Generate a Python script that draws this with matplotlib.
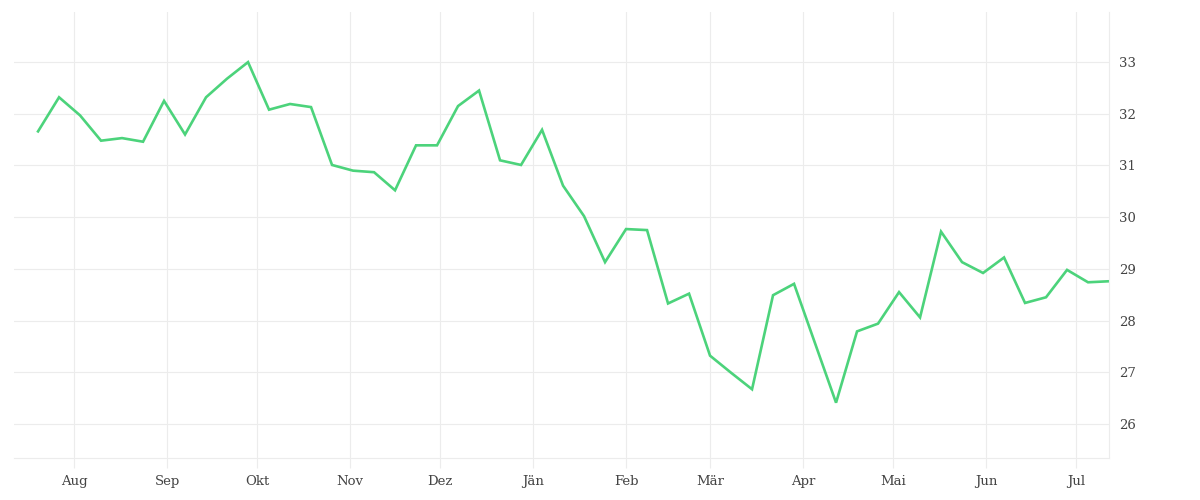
import matplotlib
matplotlib.use('Agg')
import matplotlib.pyplot as plt
import matplotlib.dates as mdates
from datetime import date, timedelta

# weekly values (one week has no point, the line runs straight)
start = date(2022, 7, 20)
weeks = [0, 1, 2, 3, 4, 5, 6, 7, 8, 9, 10, 11, 12, 13, 14, 15, 16, 17, 18, 19,
         20, 21, 22, 23, 24, 25, 26, 27, 28, 29, 30, 31, 32, 33, 34, 35, 36,
         38, 39, 40, 41, 42, 43, 44, 45, 46, 47, 48, 49, 50, 51]
values = [31.66, 32.32, 31.97, 31.48, 31.53, 31.46, 32.25, 31.60, 32.32, 32.68,
          33.00, 32.08, 32.19, 32.13, 31.01, 30.90, 30.87, 30.52, 31.39, 31.39,
          32.15, 32.45, 31.10, 31.01, 31.69, 30.61, 30.02, 29.13, 29.77, 29.75,
          28.33, 28.52, 27.32, 26.99, 26.67, 28.49, 28.71,
          26.41, 27.79, 27.94, 28.55, 28.06, 29.72, 29.13, 28.92, 29.22,
          28.34, 28.45, 28.98, 28.74, 28.76]
month_labels = ['Aug', 'Sep', 'Okt', 'Nov', 'Dez', 'Jän', 'Feb', 'Mär',
                'Apr', 'Mai', 'Jun', 'Jul']
month_starts = [date(2022, 8, 1), date(2022, 9, 1), date(2022, 10, 1),
                date(2022, 11, 1), date(2022, 12, 1), date(2023, 1, 1),
                date(2023, 2, 1), date(2023, 3, 1), date(2023, 4, 1),
                date(2023, 5, 1), date(2023, 6, 1), date(2023, 7, 1)]
y_ticks = [26, 27, 28, 29, 30, 31, 32, 33]

dates = [start + timedelta(days=7 * w) for w in weeks]

grid_col = '#ececec'
text_col = '#444444'

fig = plt.figure(figsize=(12, 5), dpi=100)
ax = fig.add_axes([0.0117, 0.084, 0.9125, 0.892])

ax.plot(dates, values, color='#4cd37b', linewidth=1.9, solid_joinstyle='miter')

ax.set_xlim(date(2022, 7, 12), date(2023, 7, 12) + timedelta(hours=16))
ax.set_ylim(25.34, 33.97)

ax.set_xticks(month_starts)
ax.set_xticklabels(month_labels)
ax.set_yticks(y_ticks)
ax.yaxis.tick_right()

ax.grid(True, color=grid_col, linewidth=0.8)
ax.set_axisbelow(True)
for side in ['top', 'left']:
    ax.spines[side].set_visible(False)
ax.spines['bottom'].set_color(grid_col)
ax.spines['bottom'].set_linewidth(0.8)
ax.spines['right'].set_color(grid_col)
ax.spines['right'].set_linewidth(0.8)

ax.tick_params(axis='x', length=7.5, width=0.8, color=grid_col, pad=5,
               labelsize=9.5, labelcolor=text_col)
ax.tick_params(axis='y', length=0, pad=7, labelsize=9.5, labelcolor=text_col)
for lab in ax.get_xticklabels() + ax.get_yticklabels():
    lab.set_fontfamily('DejaVu Serif')

fig.savefig('out.png', dpi=100, facecolor='white')
plt.close(fig)
